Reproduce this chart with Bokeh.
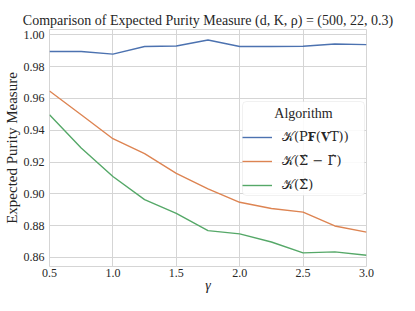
from bokeh.plotting import figure
from bokeh.models import Legend, LegendItem, FixedTicker, PrintfTickFormatter, Label, BoxAnnotation
from bokeh.embed import file_html
from bokeh.resources import INLINE

gamma = [0.5, 0.75, 1.0, 1.25, 1.5, 1.75, 2.0, 2.25, 2.5, 2.75, 3.0]
purity_pf = [0.9896, 0.9896, 0.9879, 0.9927, 0.9930, 0.9968, 0.9927, 0.9927, 0.9929, 0.9943, 0.9939]
purity_sigma_gamma = [0.9647, 0.9498, 0.9347, 0.9253, 0.9129, 0.9032, 0.8947, 0.8908, 0.8885, 0.8798, 0.8759]
purity_sigma = [0.9498, 0.9289, 0.9109, 0.8964, 0.8877, 0.8769, 0.8748, 0.8697, 0.8629, 0.8635, 0.8614]

labels = ["𝒦(P𝐅(𝐕T))", "𝒦(Σ̂ − Γ̂)", "𝒦(Σ̂)"]
colors = ["#4c72b0", "#dd8452", "#55a868"]
x_ticks = [0.5, 1.0, 1.5, 2.0, 2.5, 3.0]
y_ticks = [0.86, 0.88, 0.90, 0.92, 0.94, 0.96, 0.98, 1.00]

FONT = "Liberation Serif"
TXT = "#262626"
GRID = "#d5d5d5"

p = figure(width=399, height=295, x_range=(0.5, 3.0), y_range=(0.8543, 1.0034),
           output_backend="svg", toolbar_location=None,
           min_border_left=44, min_border_right=33, min_border_top=29, min_border_bottom=29,
           title="Comparison of Expected Purity Measure (d, K, ρ) = (500, 22, 0.3)")
p.title.text_font = FONT
p.title.text_font_size = "14px"
p.title.text_font_style = "normal"
p.title.text_color = TXT
p.title.align = "center"
p.title.standoff = 4

p.background_fill_color = "white"
p.border_fill_color = "white"
p.outline_line_color = GRID
p.outline_line_width = 1

p.xaxis.ticker = FixedTicker(ticks=x_ticks)
p.yaxis.ticker = FixedTicker(ticks=y_ticks)
p.xaxis.formatter = PrintfTickFormatter(format="%.1f")
p.yaxis.formatter = PrintfTickFormatter(format="%.2f")
for ax in (p.xaxis, p.yaxis):
    ax.axis_line_color = None
    ax.major_tick_line_color = None
    ax.minor_tick_line_color = None
    ax.major_tick_out = 0
    ax.major_tick_in = 0
    ax.minor_tick_out = 0
    ax.major_label_text_font = FONT
    ax.major_label_text_font_size = "12px"
    ax.major_label_text_color = TXT
    ax.axis_label_text_font = FONT
    ax.axis_label_text_color = TXT
p.xaxis.axis_label = "γ"
p.xaxis.axis_label_text_font_style = "italic"
p.xaxis.axis_label_text_font_size = "14px"
p.yaxis.axis_label = "Expected Purity Measure"
p.yaxis.axis_label_text_font_style = "normal"
p.yaxis.axis_label_text_font_size = "15px"
p.xaxis.major_label_standoff = 2
p.yaxis.major_label_standoff = 5
p.xaxis.axis_label_standoff = -2
p.yaxis.axis_label_standoff = 1

p.xgrid.grid_line_color = GRID
p.ygrid.grid_line_color = GRID
p.xgrid.grid_line_width = 1
p.ygrid.grid_line_width = 1

series = [purity_pf, purity_sigma_gamma, purity_sigma]
items = []
for lab, col, ys in zip(labels, colors, series):
    r = p.line(gamma, ys, line_color=col, line_width=1.4)
    items.append(LegendItem(label=lab, renderers=[r]))

box = BoxAnnotation(left=193, right=315, bottom=71, top=165,
                    left_units="screen", right_units="screen",
                    bottom_units="screen", top_units="screen",
                    fill_color="white", fill_alpha=0.88,
                    line_color="#cfcfcf", line_width=1, border_radius=4)
p.add_layout(box)

legend = Legend(items=items, title=" ", location=(193, 71))
legend.title_text_font = FONT
legend.title_text_font_size = "14px"
legend.title_standoff = 3
legend.label_text_font = "DejaVu Serif"
legend.label_text_font_size = "13px"
legend.label_text_color = TXT
legend.padding = 5
legend.spacing = 4
legend.label_height = 20
legend.glyph_height = 20
legend.glyph_width = 30
legend.label_standoff = 10
legend.margin = 0
legend.border_line_color = None
legend.background_fill_alpha = 0
p.add_layout(legend, "center")

legend_title = Label(x=254, y=153, x_units="screen", y_units="screen", text="Algorithm",
                     text_align="center", text_baseline="middle", text_font=FONT,
                     text_font_size="14px", text_color=TXT)
p.add_layout(legend_title)

open("out.html", "w").write(file_html(p, INLINE))
